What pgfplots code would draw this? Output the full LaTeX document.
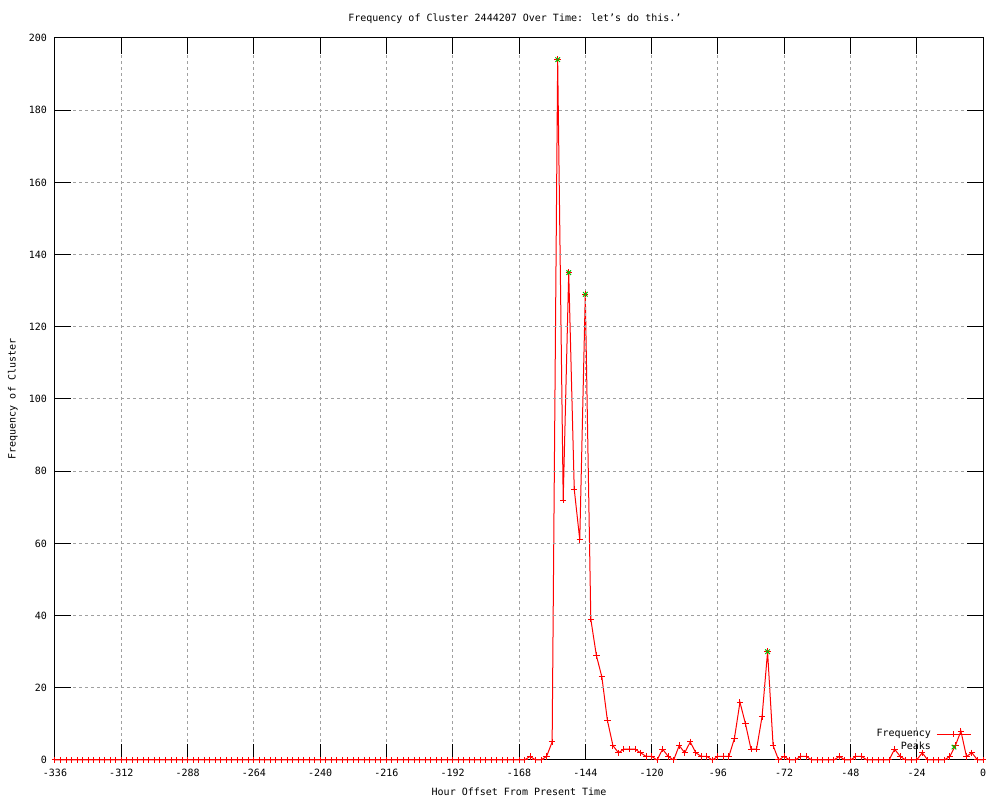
\documentclass[border=0pt]{standalone}
\usepackage{fontspec}
\setmainfont{DejaVu Sans Mono}
\usepackage{pgfplots}
\pgfplotsset{compat=1.18}
\definecolor{gpred}{RGB}{255,0,0}
\definecolor{gpgreen}{RGB}{0,192,0}
\definecolor{gpgrid}{RGB}{160,160,160}
\begin{document}
\begin{tikzpicture}
\begin{axis}[
  scale only axis, width=464pt, height=361pt,
  xmin=-336, xmax=0, ymin=0, ymax=200,
  xtick={-336,-312,...,0}, ytick={0,20,...,200},
  grid=major,
  major grid style={gpgrid, line width=0.5pt, dash pattern=on 1.4pt off 1.6pt},
  axis line style={line width=0.5pt, black},
  tick style={line width=0.5pt, black},
  major tick length=8pt,
  tick align=inside,
  axis on top,
  clip=false,
  font=\fontsize{5}{6}\selectfont,
  /pgf/number format/assume math mode=true,
  xticklabel style={anchor=base, yshift=-8.25pt},
  yticklabel style={anchor=east, inner sep=0pt, xshift=-3.85pt},
  title={Frequency of Cluster 2444207 Over Time: let’s do this.’},
  every axis title shift=0pt,
  title style={at={(axis description cs:0.488,1)}, anchor=base, yshift=8pt, xshift=3.5pt},
  xlabel={Hour Offset From Present Time},
  xlabel style={at={(axis description cs:0.5,0)}, anchor=base, yshift=-18pt},
  ylabel={Frequency of Cluster},
  ylabel style={at={(axis description cs:-0.0453,0.5)}, anchor=center},
  legend plot pos=right,
  legend cell align=right,
  legend style={draw=none, fill=none, inner sep=0pt, outer sep=0pt,
    at={(axis description cs:1,0)}, anchor=south east,
    xshift=-5.75pt, yshift=3.2pt, column sep=2pt, row sep=0pt,
    font=\fontsize{5}{6}\selectfont,
    nodes={inner sep=0.75pt, text height=3.75pt, text depth=1.25pt}},
]
\addplot[gpred, line width=0.5pt, mark=+, mark size=1.6pt, mark options={solid}] coordinates {
(-336,0) (-334,0) (-332,0) (-330,0) (-328,0) (-326,0) (-324,0) (-322,0) (-320,0) (-318,0)
(-316,0) (-314,0) (-312,0) (-310,0) (-308,0) (-306,0) (-304,0) (-302,0) (-300,0) (-298,0)
(-296,0) (-294,0) (-292,0) (-290,0) (-288,0) (-286,0) (-284,0) (-282,0) (-280,0) (-278,0)
(-276,0) (-274,0) (-272,0) (-270,0) (-268,0) (-266,0) (-264,0) (-262,0) (-260,0) (-258,0)
(-256,0) (-254,0) (-252,0) (-250,0) (-248,0) (-246,0) (-244,0) (-242,0) (-240,0) (-238,0)
(-236,0) (-234,0) (-232,0) (-230,0) (-228,0) (-226,0) (-224,0) (-222,0) (-220,0) (-218,0)
(-216,0) (-214,0) (-212,0) (-210,0) (-208,0) (-206,0) (-204,0) (-202,0) (-200,0) (-198,0)
(-196,0) (-194,0) (-192,0) (-190,0) (-188,0) (-186,0) (-184,0) (-182,0) (-180,0) (-178,0)
(-176,0) (-174,0) (-172,0) (-170,0) (-168,0) (-166,0) (-164,1) (-162,0) (-160,0) (-158,1)
(-156,5) (-154,194) (-152,72) (-150,135) (-148,75) (-146,61) (-144,129) (-142,39) (-140,29) (-138,23)
(-136,11) (-134,4) (-132,2) (-130,3) (-128,3) (-126,3) (-124,2) (-122,1) (-120,1) (-118,0)
(-116,3) (-114,1) (-112,0) (-110,4) (-108,2) (-106,5) (-104,2) (-102,1) (-100,1) (-98,0)
(-96,1) (-94,1) (-92,1) (-90,6) (-88,16) (-86,10) (-84,3) (-82,3) (-80,12) (-78,30)
(-76,4) (-74,0) (-72,1) (-70,0) (-68,0) (-66,1) (-64,1) (-62,0) (-60,0) (-58,0)
(-56,0) (-54,0) (-52,1) (-50,0) (-48,0) (-46,1) (-44,1) (-42,0) (-40,0) (-38,0)
(-36,0) (-34,0) (-32,3) (-30,1) (-28,0) (-26,0) (-24,0) (-22,2) (-20,0) (-18,0)
(-16,0) (-14,0) (-12,1) (-10,4) (-8,8) (-6,1) (-4,2) (-2,0) (0,0)
};
\addlegendentry{Frequency}
\addplot[gpgreen, only marks, mark=x, mark size=1.6pt, mark options={solid, line width=0.5pt}] coordinates {
(-154,194) (-150,135) (-144,129) (-78,30)
};
\addlegendentry{Peaks}
\end{axis}
\pgfresetboundingbox
\path ([shift={(-27.5pt,-20pt)}]current axis.south west) rectangle ([shift={(8.5pt,19pt)}]current axis.north east);
\end{tikzpicture}
\end{document}
